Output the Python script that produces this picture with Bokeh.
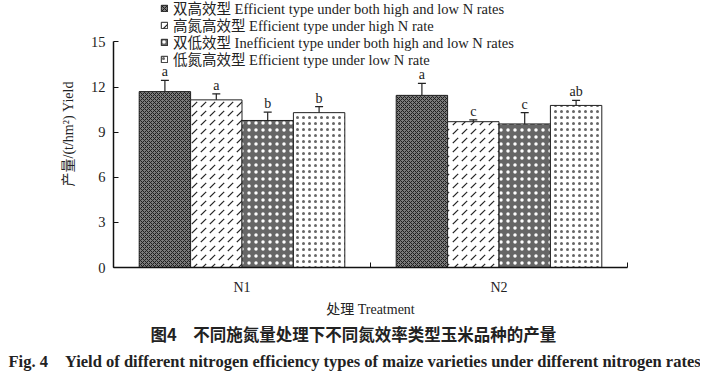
from bokeh.plotting import figure
from bokeh.models import (ColumnDataSource, Whisker, FixedTicker, Legend, LegendItem,
                          Title, Range1d, TeeHead)
from bokeh.transform import dodge
from bokeh.core.properties import value
from bokeh.embed import file_html
from bokeh.resources import INLINE

# ---------------- data ----------------
groups = ["N1", "N2"]
type_labels = [
    "双高效型 Efficient type under both high and low N rates",
    "高氮高效型 Efficient type under high N rate",
    "双低效型 Inefficient type under both high and low N rates",
    "低氮高效型 Efficient type under low N rate",
]
yield_eff_both = [11.7, 11.45]
yield_eff_high = [11.15, 9.70]
yield_ineff_both = [9.78, 9.55]
yield_eff_low = [10.30, 10.78]

sd_eff_both = [0.75, 0.80]
sd_eff_high = [0.40, 0.12]
sd_ineff_both = [0.55, 0.75]
sd_eff_low = [0.40, 0.33]

sig_eff_both = ["a", "a"]
sig_eff_high = ["a", "c"]
sig_ineff_both = ["b", "c"]
sig_eff_low = ["b", "ab"]

y_ticks = [0, 3, 6, 9, 12, 15]

# ---------------- styling ----------------
SERIF = "'Liberation Serif', 'Noto Sans CJK SC'"
series = [
    (yield_eff_both, sd_eff_both, sig_eff_both),
    (yield_eff_high, sd_eff_high, sig_eff_high),
    (yield_ineff_both, sd_ineff_both, sig_ineff_both),
    (yield_eff_low, sd_eff_low, sig_eff_low),
]
offsets = [-0.3, -0.1, 0.1, 0.3]
styles = [
    dict(fill_color="#7a7a7a", hatch_pattern="diagonal_cross", hatch_color="#1e1e1e",
         hatch_scale=4, hatch_weight=1),
    dict(fill_color="white", hatch_pattern="right_diagonal_dash", hatch_color="#222222",
         hatch_scale=9, hatch_weight=1.2),
    dict(fill_color="#666666", hatch_pattern="dot", hatch_color="white",
         hatch_scale=7, hatch_weight=1.5),
    dict(fill_color="white", hatch_pattern="dot", hatch_color="#666666",
         hatch_scale=6, hatch_weight=1.2),
]

p = figure(width=700, height=374, output_backend="svg", toolbar_location=None,
           x_range=Range1d(0, len(groups)), y_range=Range1d(0, 17.76),
           min_border_left=113, min_border_right=73, min_border_top=0,
           min_border_bottom=104)
p.outline_line_color = None
p.xgrid.visible = False
p.ygrid.visible = False
p.background_fill_color = "white"
p.border_fill_color = "white"

renderers = []
for (vals, sds, sig), off, st in zip(series, offsets, styles):
    src = ColumnDataSource(dict(
        x=[i + 0.5 for i in range(len(groups))],
        top=vals,
        upper=[v + s for v, s in zip(vals, sds)],
        lower=[v - s for v, s in zip(vals, sds)],
        letter=sig,
    ))
    xs = dodge("x", off, range=p.x_range)
    r = p.vbar(x=xs, top="top", bottom=0, width=0.2, source=src,
               line_color="#222222", line_width=1, **st)
    renderers.append(r)
    w = Whisker(base=xs, upper="upper", lower="lower", source=src,
                line_color="#222222", line_width=1.2,
                upper_head=TeeHead(size=8, line_color="#222222", line_width=1.2),
                lower_head=TeeHead(size=8, line_color="#222222", line_width=1.2))
    p.add_layout(w)
    p.text(x=xs, y="upper", text="letter", source=src, text_align="center",
           text_baseline="bottom", y_offset=-1, text_font=value(SERIF),
           text_font_size="14px", text_color="#222222")

# axes
p.yaxis.bounds = (y_ticks[0], y_ticks[-1])
p.yaxis.ticker = FixedTicker(ticks=y_ticks)
p.yaxis.major_tick_in = 5
p.yaxis.major_tick_out = 0
p.yaxis.minor_tick_in = 0
p.yaxis.minor_tick_out = 0
p.yaxis.axis_line_width = 1.5
p.yaxis.major_label_text_font = SERIF
p.yaxis.major_label_text_font_size = "14.5px"
p.yaxis.major_label_standoff = 8
p.yaxis.axis_label = "产量/(t/hm²) Yield"
p.yaxis.axis_label_text_font = SERIF
p.yaxis.axis_label_text_font_size = "14px"
p.yaxis.axis_label_text_font_style = "normal"
p.yaxis.axis_label_standoff = 12

p.xaxis.ticker = FixedTicker(ticks=[i + 0.5 for i in range(len(groups))],
                             minor_ticks=list(range(len(groups) + 1)))
p.xaxis.major_label_overrides = {i + 0.5: g for i, g in enumerate(groups)}
p.xaxis.major_tick_in = 0
p.xaxis.major_tick_out = 0
p.xaxis.minor_tick_in = 5
p.xaxis.minor_tick_out = 0
p.xaxis.axis_line_width = 1.5
p.xaxis.major_label_text_font = SERIF
p.xaxis.major_label_text_font_size = "14px"
p.xaxis.major_label_standoff = 12
p.xaxis.axis_label = "处理 Treatment"
p.xaxis.axis_label_text_font = SERIF
p.xaxis.axis_label_text_font_size = "14px"
p.xaxis.axis_label_text_font_style = "normal"
p.xaxis.axis_label_standoff = 4

for ax in (p.xaxis, p.yaxis):
    ax.axis_line_color = "#111111"
    ax.minor_tick_line_color = "#111111"
    ax.major_tick_line_color = "#111111"
    ax.major_label_text_color = "#222222"
    ax.axis_label_text_color = "#222222"

# one legend per row so row spacing is exact
row_locs = [249, 232, 215, 198]
for lab, r, ly in zip(type_labels, renderers, row_locs):
    lg = Legend(items=[LegendItem(label=lab, renderers=[r])],
                location=(47, ly), orientation="vertical",
                glyph_width=8, glyph_height=8, label_height=17, spacing=0,
                padding=0, margin=0, label_standoff=5,
                label_text_font=SERIF, label_text_font_size="14.5px",
                label_text_color="#222222",
                border_line_alpha=0, background_fill_alpha=0)
    p.add_layout(lg, "center")

t1 = Title(text="图4　不同施氮量处理下不同氮效率类型玉米品种的产量", align="left",
           offset=37, text_font="Noto Sans CJK SC", text_font_size="16.5px",
           text_font_style="bold", text_color="#222222", standoff=0)
t2 = Title(text="Fig. 4　Yield of different nitrogen efficiency types of maize varieties under different nitrogen rates",
           align="left", offset=-105, text_font="Liberation Serif", text_font_size="16.5px",
           text_font_style="bold", text_color="#222222", standoff=8)
p.add_layout(t1, "below")
p.add_layout(t2, "below")

open("out.html", "w").write(file_html(p, INLINE))
